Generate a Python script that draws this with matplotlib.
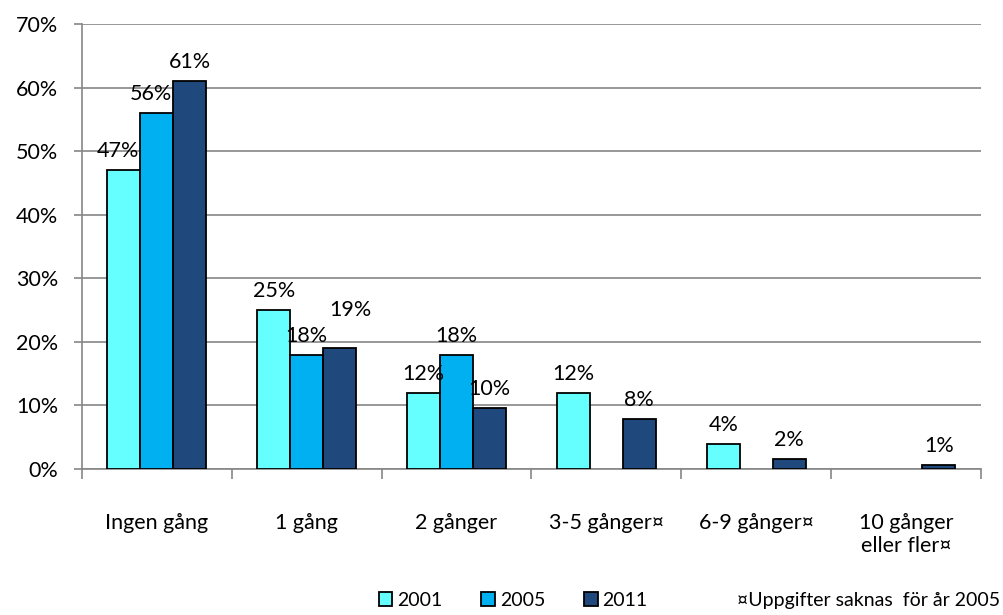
import matplotlib.pyplot as plt
from matplotlib.patches import Patch
import numpy as np

# data (andel i procent)
kategorier = ['Ingen gång', '1 gång', '2 gånger', '3-5 gånger¤', '6-9 gånger¤', '10 gånger\neller fler¤']
ar = ['2001', '2005', '2011']
v2001 = [47, 25, 12, 12, 4, np.nan]
v2005 = [56, 18, 18, np.nan, np.nan, np.nan]
v2011 = [61, 19, 9.6, 7.9, 1.6, 0.6]
fotnot = '¤Uppgifter saknas  för år 2005'

farger = ['#66FFFF', '#00B0F0', '#1F497D']
plt.rcParams['font.family'] = ['Lato', 'DejaVu Sans']
fs = 15.5

# etiketter som Excel flyttat lite (serie, kategori) -> förskjutning i punkter
flytt = {(0, 0): (-4, 0), (1, 0): (-4, 0), (2, 1): (8, 14)}

fig = plt.figure(figsize=(10.04, 6.15), dpi=100)
ax = fig.add_axes([0.0817, 0.2374, 0.8953, 0.7236])

x = np.arange(len(kategorier)) + 0.5
bredd = 0.22
for i, (serie, f) in enumerate(zip([v2001, v2005, v2011], farger)):
    pos = x + (i - 1) * bredd
    ax.bar(pos, serie, width=bredd, color=f, edgecolor='black', linewidth=1.3, zorder=3)
    for j, (p, v) in enumerate(zip(pos, serie)):
        if np.isnan(v):
            continue
        dx, dy = flytt.get((i, j), (0, 0))
        ax.annotate('%.0f%%' % v, (p, v), xytext=(dx, 6.5 + dy), textcoords='offset points',
                    ha='center', va='bottom', fontsize=fs, zorder=4)

ax.set_xlim(0, 6)
ax.set_ylim(0, 70)
ax.set_yticks(np.arange(0, 71, 10))
ax.set_yticklabels(['%d%%' % t for t in range(0, 71, 10)], fontsize=fs)
ax.yaxis.grid(True, color='#868686', linewidth=1.2, zorder=0)

ax.set_xticks(np.arange(0, 7))
ax.set_xticklabels([])
ax.set_xticks(x, minor=True)
ax.set_xticklabels(kategorier, minor=True, fontsize=fs, linespacing=1.15)
ax.tick_params(axis='x', which='minor', length=0, pad=32)
ax.tick_params(axis='x', which='major', length=7, color='#868686', width=1.2, direction='out')
ax.tick_params(axis='y', length=6, color='#868686', width=1.2, pad=11)

for s in ['top', 'right']:
    ax.spines[s].set_visible(False)
for s in ['left', 'bottom']:
    ax.spines[s].set_color('#868686')
    ax.spines[s].set_linewidth(1.2)

handles = [Patch(facecolor=f, edgecolor='black', linewidth=1.3) for f in farger]
fig.legend(handles, ar, loc='center', bbox_to_anchor=(0.511, 0.024), ncol=3, frameon=False,
           fontsize=14, handlelength=0.7, handleheight=0.7, handletextpad=0.25,
           columnspacing=2.0)
fig.text(0.734, 0.024, fotnot, fontsize=14, ha='left', va='center')

fig.savefig('out.png', dpi=100)
